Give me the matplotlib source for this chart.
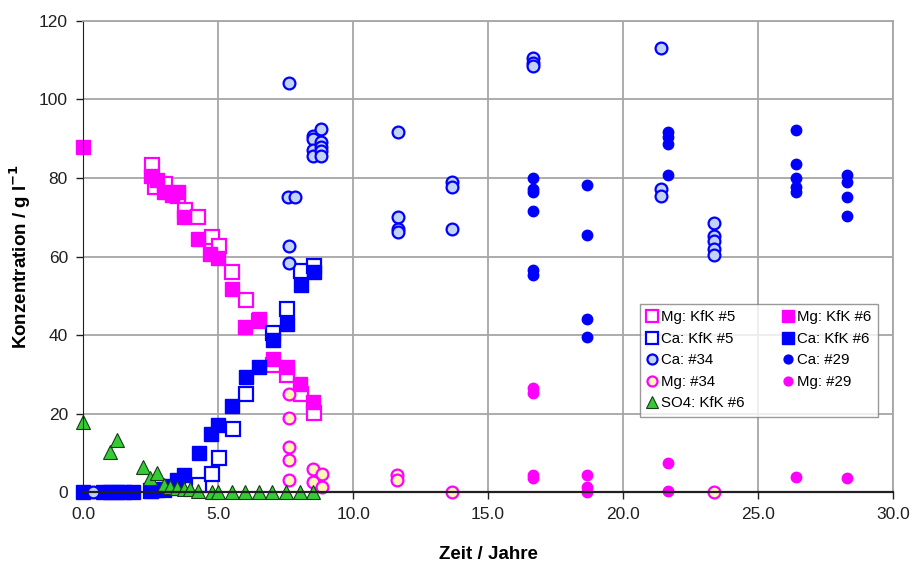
import matplotlib
matplotlib.use("Agg")
import matplotlib.pyplot as plt
from matplotlib.ticker import MultipleLocator, FormatStrFormatter

plt.rcParams["font.family"] = ["Liberation Sans", "DejaVu Sans"]

# Mg: KfK #5 (open magenta squares)
mg5_x = [2.54, 2.67, 3.04, 3.5, 3.78, 4.27, 4.77, 5.05, 5.5, 6.04, 6.5, 7.02, 7.54, 8.06, 8.56]
mg5_y = [83.2, 77.7, 78.5, 75.5, 71.8, 70.0, 65.0, 62.8, 56.0, 48.9, 43.5, 32.3, 29.8, 25.1, 20.2]

# Mg: KfK #6 (filled magenta squares)
mg6_x = [0, 2.5, 2.73, 2.98, 3.28, 3.53, 3.72, 4.27, 4.7, 5.01, 5.51, 6.0, 6.53, 7.02, 7.54, 8.04, 8.53]
mg6_y = [88.0, 80.6, 79.4, 76.4, 75.6, 76.4, 70.0, 64.5, 60.7, 59.5, 51.8, 42.0, 44.2, 34.0, 31.9, 27.6, 23.0]

# Ca: KfK #5 (open blue squares)
ca5_x = [2.5, 3.0, 3.5, 4.3, 4.77, 5.04, 5.54, 6.04, 7.02, 7.54, 8.06, 8.56]
ca5_y = [0.3, 0.5, 1.0, 1.8, 4.6, 8.6, 16.0, 25.1, 40.4, 46.7, 56.3, 57.5]

# Ca: KfK #6 (filled blue squares)
ca6_x = [0, 0.75, 1.0, 1.25, 1.5, 1.85, 2.5, 2.75, 3.0, 3.25, 3.47, 3.74, 4.3, 4.73,
         5.01, 5.5, 6.04, 6.53, 7.02, 7.54, 8.06, 8.56]
ca6_y = [0, 0, 0, 0, 0, 0, 0.3, 0.5, 0.8, 1.5, 3.0, 4.3, 10.0, 14.8,
         17.0, 21.9, 29.2, 31.9, 38.7, 42.9, 52.7, 56.0]

# Ca: #34 (open circles, light blue fill)
ca34_x = [0.38, 7.63, 7.6, 7.85, 7.63, 7.63, 8.5, 8.5, 8.5, 8.5, 8.8, 8.8, 8.8, 8.8, 8.8,
          11.68, 11.68, 11.68, 11.68, 13.65, 13.65, 13.65, 16.65, 16.65, 16.65,
          21.4, 21.4, 21.4, 23.37, 23.37, 23.37, 23.37, 23.37]
ca34_y = [0, 104.2, 75.1, 75.1, 62.8, 58.4, 90.8, 90.0, 87.2, 85.7, 92.5, 89.1, 88.0, 86.9, 85.6,
          91.7, 70.0, 67.1, 66.2, 79.0, 77.7, 67.1, 110.6, 109.4, 108.4,
          113.2, 77.1, 75.3, 68.5, 65.2, 64.0, 61.8, 60.5]

# Ca: #29 (filled blue circles)
ca29_x = [16.65] * 6 + [18.65] * 4 + [21.65] * 4 + [26.4] * 5 + [28.3] * 4
ca29_y = [80.0, 77.2, 76.4, 71.6, 56.5, 55.2,
          78.3, 65.4, 44.2, 39.5,
          91.7, 90.4, 88.7, 80.7,
          92.3, 83.5, 80.0, 77.7, 76.4,
          80.7, 79.0, 75.1, 70.3]

# Mg: #34 (open circles, light yellow fill)
mg34_x = [7.63, 7.63, 7.63, 7.63, 7.63, 8.53, 8.84, 8.53, 8.84, 11.64, 11.64, 13.65, 23.37]
mg34_y = [24.9, 18.9, 11.4, 8.1, 3.2, 5.8, 4.6, 2.6, 1.35, 4.3, 3.2, 0, 0]

# Mg: #29 (filled magenta circles)
mg29_x = [16.65, 16.65, 16.65, 16.65, 18.65, 18.65, 18.65, 21.65, 21.65, 26.4, 28.3]
mg29_y = [26.4, 25.3, 4.3, 3.5, 4.3, 1.4, 0, 7.5, 0.3, 3.9, 3.5]

# SO4: KfK #6 (green triangles)
so4_x = [0, 1.0, 1.27, 2.23, 2.48, 2.73, 2.98, 3.2, 3.47, 3.72, 3.95, 4.27,
         4.77, 5.0, 5.5, 6.0, 6.5, 7.0, 7.5, 8.04, 8.53]
so4_y = [17.9, 10.3, 13.2, 6.4, 3.5, 4.8, 1.8, 1.3, 1.0, 0.8, 0.9, 0.2,
         0, 0, 0, 0, 0, 0, 0, 0, 0]

MAG = "#ff00ff"
BLUE = "#0000ff"

fig = plt.figure(figsize=(9.14, 5.65), dpi=100)
ax = fig.add_axes([0.091, 0.129, 0.886, 0.834])

sq = dict(marker="s", linestyle="none", markersize=9.8, clip_on=False)
h_mg5, = ax.plot(mg5_x, mg5_y, mfc="white", mec=MAG, mew=1.6, label="Mg: KfK #5", **sq)
h_mg6, = ax.plot(mg6_x, mg6_y, mfc=MAG, mec=MAG, mew=1.0, label="Mg: KfK #6", **sq)
h_ca5, = ax.plot(ca5_x, ca5_y, mfc="white", mec=BLUE, mew=1.6, label="Ca: KfK #5", **sq)
h_ca6, = ax.plot(ca6_x, ca6_y, mfc=BLUE, mec=BLUE, mew=1.0, label="Ca: KfK #6", **sq)
h_ca34, = ax.plot(ca34_x, ca34_y, marker="o", linestyle="none", markersize=8.5,
                  mfc="#c3d3f3", mec=BLUE, mew=1.6, label="Ca: #34", clip_on=False)
h_ca29, = ax.plot(ca29_x, ca29_y, marker="o", linestyle="none", markersize=7.5,
                  mfc=BLUE, mec=BLUE, label="Ca: #29", clip_on=False)
h_mg34, = ax.plot(mg34_x, mg34_y, marker="o", linestyle="none", markersize=8.5,
                  mfc="#fff6b8", mec=MAG, mew=1.6, label="Mg: #34", clip_on=False)
h_mg29, = ax.plot(mg29_x, mg29_y, marker="o", linestyle="none", markersize=7.5,
                  mfc=MAG, mec=MAG, label="Mg: #29", clip_on=False)
h_so4, = ax.plot(so4_x, so4_y, marker="^", linestyle="none", markersize=10,
                 mfc="#33cc33", mec="#1a3a1a", mew=0.8, label="SO4: KfK #6", clip_on=False)

ax.set_xlim(0, 30)
ax.set_ylim(0, 120)
ax.xaxis.set_major_locator(MultipleLocator(5))
ax.yaxis.set_major_locator(MultipleLocator(20))
ax.xaxis.set_major_formatter(FormatStrFormatter("%.1f"))
ax.grid(True, color="#a6a6a6", linewidth=1.3)
ax.set_axisbelow(True)
for s in ("top", "right"):
    ax.spines[s].set_color("#a6a6a6")
    ax.spines[s].set_linewidth(1.3)
ax.spines["left"].set_color("#202020")
ax.spines["bottom"].set_color("#202020")
ax.spines["bottom"].set_linewidth(1.6)
ax.tick_params(direction="out", length=5, width=1, colors="#202020", labelsize=12.5, pad=6)

ax.set_xlabel("Zeit / Jahre", fontsize=13.5, fontweight="bold", labelpad=17)
ax.set_ylabel("Konzentration / g l$^{\\mathbf{-1}}$", fontsize=13.5, fontweight="bold", labelpad=4)

handles = [h_mg5, h_ca5, h_ca34, h_mg34, h_so4, h_mg6, h_ca6, h_ca29, h_mg29]
leg = ax.legend(handles=handles, ncol=2, loc="lower left", bbox_to_anchor=(0.688, 0.159),
                borderaxespad=0, fontsize=10.8, frameon=True, fancybox=False, edgecolor="#808080",
                handlelength=0.6, handletextpad=0.3, columnspacing=2.6, labelspacing=0.5,
                borderpad=0.45, markerscale=0.85)
leg.get_frame().set_linewidth(1.0)
leg.set_zorder(5)

fig.savefig("out.png", dpi=100)
